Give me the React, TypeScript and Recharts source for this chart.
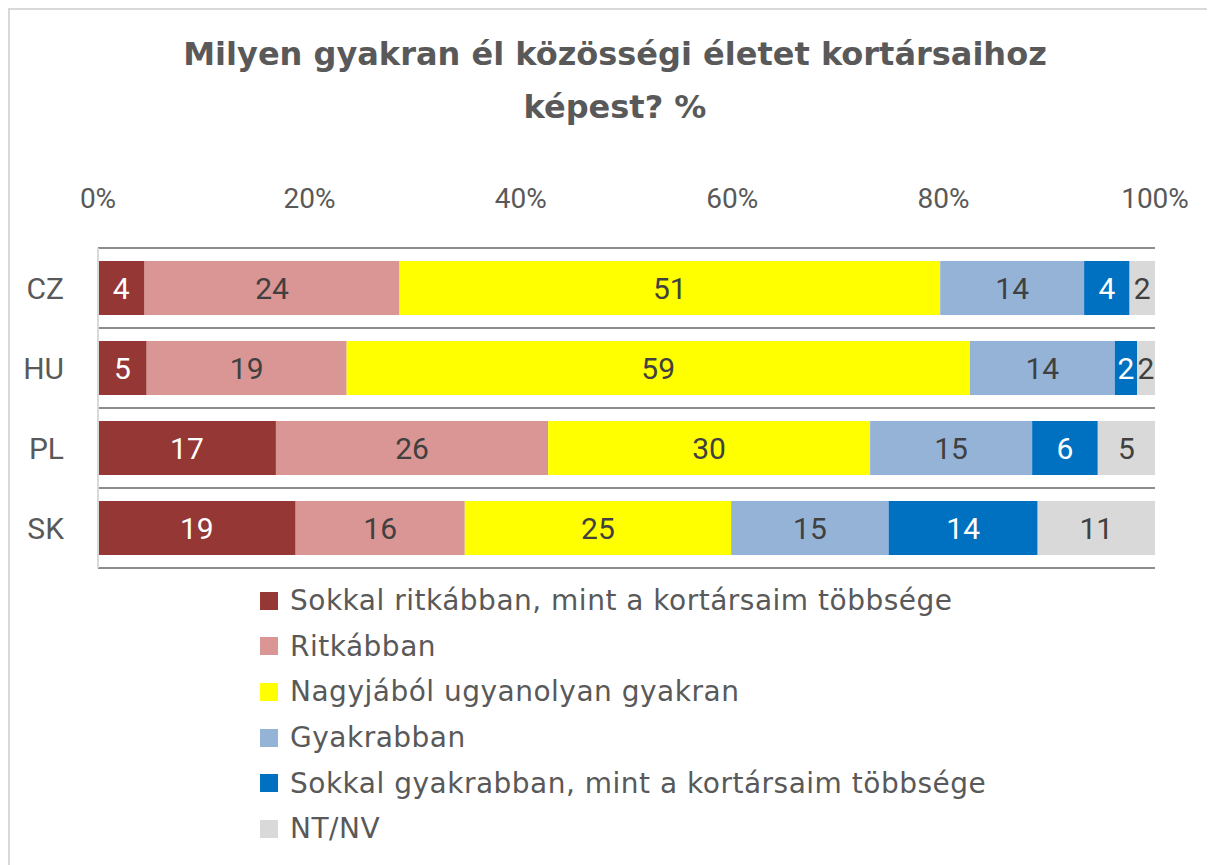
import React from "react";
import {
  BarChart,
  Bar,
  XAxis,
  YAxis,
  CartesianGrid,
} from "recharts";

// values (percent of respondents)
const categories = ["CZ", "HU", "PL", "SK"];
const sokkalRitkabban = [4.4, 4.6, 16.8, 18.7];
const ritkabban = [24.1, 18.9, 25.7, 16.0];
const nagyjabol = [51.1, 58.9, 30.4, 25.2];
const gyakrabban = [13.6, 13.7, 15.3, 14.9];
const sokkalGyakrabban = [4.3, 2.1, 6.2, 14.1];
const ntnv = [2.4, 1.7, 5.4, 11.1];

const xTicks = [0, 0.2, 0.4, 0.6, 0.8, 1];

const FONT = "Roboto, 'Noto Sans', sans-serif";
const WIDE_FONT = "'DejaVu Sans', sans-serif";
const TEXT = "#595959";

const series = [
  { key: "s1", name: "Sokkal ritkábban, mint a kortársaim többsége", values: sokkalRitkabban, color: "#953735", label: "#ffffff" },
  { key: "s2", name: "Ritkábban", values: ritkabban, color: "#D99694", label: "#404040" },
  { key: "s3", name: "Nagyjából ugyanolyan gyakran", values: nagyjabol, color: "#FFFF00", label: "#404040" },
  { key: "s4", name: "Gyakrabban", values: gyakrabban, color: "#95B3D7", label: "#404040" },
  { key: "s5", name: "Sokkal gyakrabban, mint a kortársaim többsége", values: sokkalGyakrabban, color: "#0070C0", label: "#ffffff" },
  { key: "s6", name: "NT/NV", values: ntnv, color: "#D9D9D9", label: "#404040" },
];

const chartData = categories.map((name, i) => {
  const row: any = { name };
  series.forEach((s) => {
    row[s.key] = s.values[i];
  });
  return row;
});

const makeLabel = (values: number[], fill: string) => (props: any) => {
  const { x, y, width, height, index } = props;
  if (index == null || width == null) return null;
  return (
    <text
      x={Number(x) + Number(width) / 2}
      y={Number(y) + Number(height) / 2}
      textAnchor="middle"
      dominantBaseline="central"
      fill={fill}
      fontSize={30}
      fontFamily={FONT}
    >
      {Math.round(values[index])}
    </text>
  );
};

const bandLines = ({ offset }: any) => {
  const n = categories.length;
  const lines: number[] = [];
  for (let i = 0; i <= n; i++) lines.push(offset.top + (offset.height * i) / n);
  return lines;
};

export default function App() {
  return (
    <div
      style={{
        position: "relative",
        width: 1207,
        height: 857,
        borderTop: "2px solid #d9d9d9",
        borderLeft: "2px solid #d9d9d9",
        boxSizing: "border-box",
        fontFamily: FONT,
        background: "#fff",
      }}
    >
      <div
        style={{
          position: "absolute",
          left: 0,
          width: 1210,
          top: 18,
          textAlign: "center",
          fontSize: 32,
          fontWeight: 700,
          fontFamily: WIDE_FONT,
          color: TEXT,
          lineHeight: "53px",
        }}
      >
        Milyen gyakran él közösségi életet kortársaihoz
        <br />
        képest? %
      </div>
      <div style={{ position: "absolute", left: -2, top: -2 }}>
        <BarChart
          width={1207}
          height={857}
          data={chartData}
          layout="vertical"
          stackOffset="expand"
          margin={{ top: 180, right: 60, bottom: 297, left: 0 }}
        >
          <CartesianGrid
            vertical={false}
            stroke="#8c8c8c"
            strokeWidth={2}
            horizontalCoordinatesGenerator={bandLines}
          />
          <XAxis
            type="number"
            orientation="top"
            domain={[0, 1]}
            ticks={xTicks}
            tickFormatter={(v: number) => `${Math.round(v * 100)}%`}
            axisLine={false}
            tickLine={false}
            tickSize={0}
            tickMargin={40}
            height={60}
            tick={{ fill: TEXT, fontSize: 28, fontFamily: FONT }}
            interval={0}
          />
          <YAxis
            type="category"
            dataKey="name"
            width={90}
            axisLine={{ stroke: "#d9d9d9", strokeWidth: 2 }}
            tickLine={false}
            tickSize={0}
            tickMargin={34}
            tick={{ fill: TEXT, fontSize: 30, fontFamily: FONT }}
          />
          {series.map((s) => (
            <Bar
              key={s.key}
              dataKey={s.key}
              name={s.name}
              stackId="a"
              fill={s.color}
              barSize={54}
              isAnimationActive={false}
              label={makeLabel(s.values, s.label)}
            />
          ))}
        </BarChart>
      </div>
      <div style={{ position: "absolute", left: 250, top: 568 }}>
        {series.map((s) => (
          <div
            key={s.key}
            style={{
              display: "flex",
              alignItems: "center",
              height: 45.6,
              fontSize: 28,
              letterSpacing: 0.5,
              fontFamily: WIDE_FONT,
              color: TEXT,
            }}
          >
            <span
              style={{
                display: "inline-block",
                width: 18,
                height: 18,
                background: s.color,
                marginRight: 12,
              }}
            />
            {s.name}
          </div>
        ))}
      </div>
    </div>
  );
}
